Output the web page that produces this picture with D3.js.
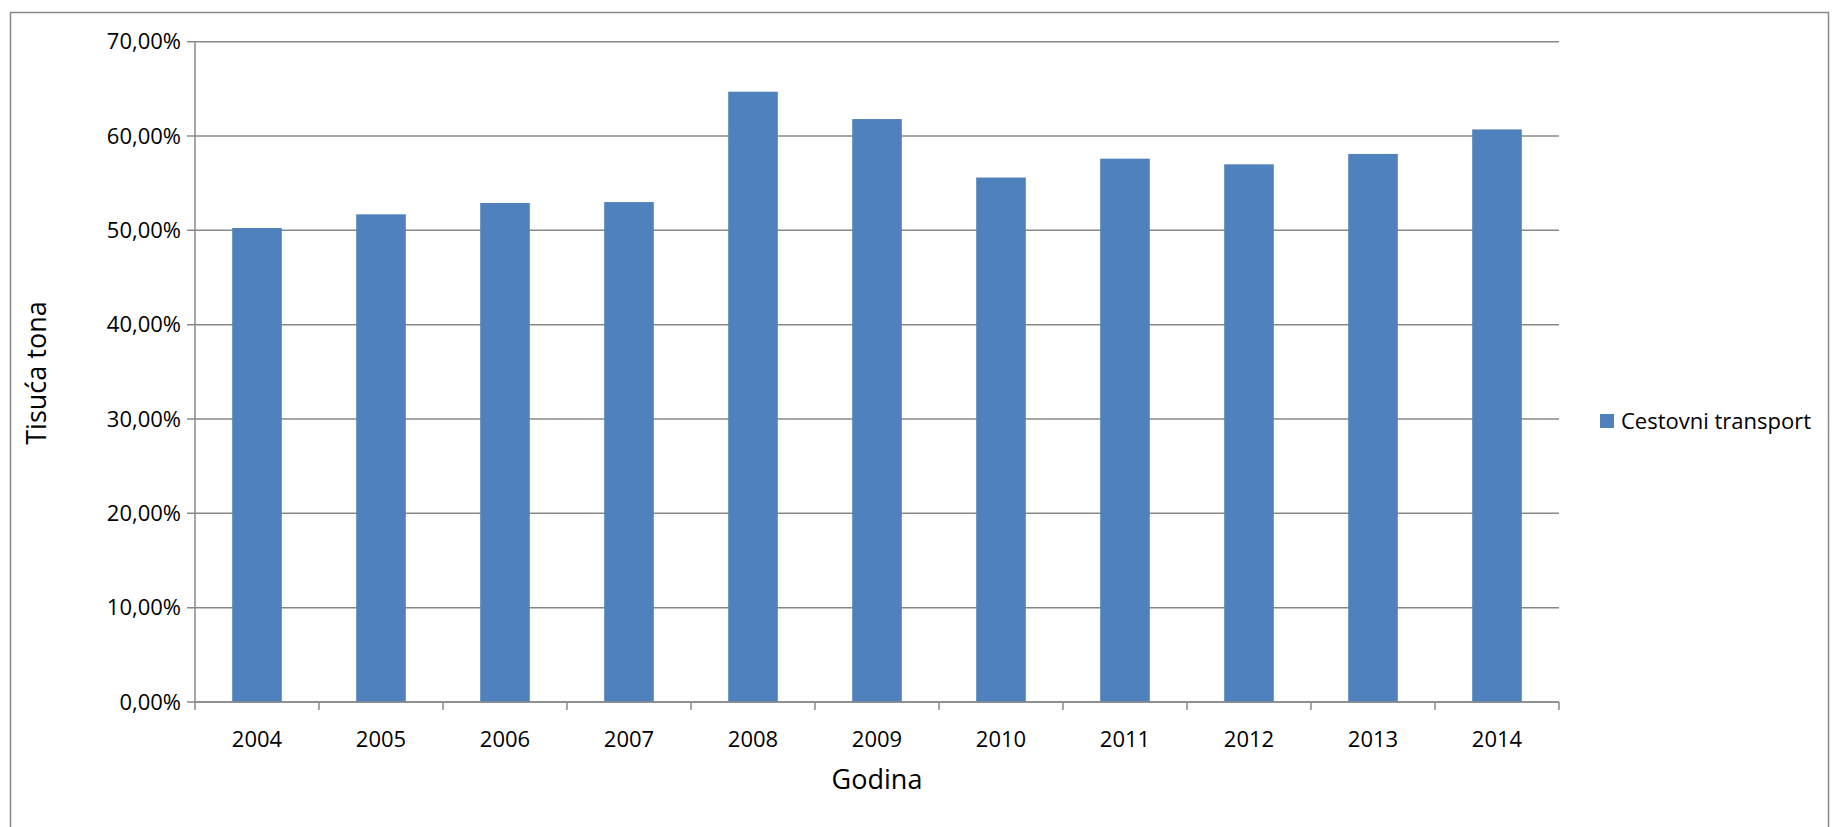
<!DOCTYPE html>
<html><head><meta charset="utf-8">
<script src="https://cdn.jsdelivr.net/npm/d3@7"></script>
<style>body{margin:0;background:#fff}svg{display:block}text{font-family:"Open Sans",sans-serif;fill:#000}</style>
</head><body><svg id="c" width="1834" height="827"></svg>
<script>
const categories=["2004","2005","2006","2007","2008","2009","2010","2011","2012","2013","2014"];
const values=[50.25,51.7,52.9,53.0,64.7,61.8,55.6,57.6,57.0,58.1,60.7];
const yTicks=[0,10,20,30,40,50,60,70];
const seriesName="Cestovni transport";
const svg=d3.select("#c");
svg.append("rect").attr("x",10.5).attr("y",12.5).attr("width",1818).attr("height",830).attr("fill","none").attr("stroke","#888").attr("stroke-width",1.5);
const L=195,R=1559,T=41.7,B=702;
const x=d3.scaleBand().domain(categories).range([L,R]);
const y=d3.scaleLinear().domain([0,70]).range([B,T]);
const g=svg.append("g");
yTicks.forEach(t=>{
  g.append("line").attr("x1",L-8).attr("x2",R).attr("y1",y(t)).attr("y2",y(t)).attr("stroke","#888").attr("stroke-width",1.5);
  g.append("text").attr("x",L-14).attr("y",y(t)).attr("dy","0.35em").attr("text-anchor","end").attr("font-size",22).text(t.toFixed(2).replace(".",",")+"%");
});
g.append("line").attr("x1",L).attr("x2",L).attr("y1",T).attr("y2",B).attr("stroke","#888").attr("stroke-width",1.5);
const bw=x.bandwidth()*0.4;
g.selectAll("rect.b").data(values).join("rect").attr("class","b")
 .attr("x",(d,i)=>x(categories[i])+(x.bandwidth()-bw)/2).attr("width",bw)
 .attr("y",d=>y(d)).attr("height",d=>B-y(d)).attr("fill","#4f81bd");
[...categories.map(c=>x(c)),R].forEach(p=>g.append("line").attr("x1",p).attr("x2",p).attr("y1",B).attr("y2",B+8).attr("stroke","#888").attr("stroke-width",1.5));
g.append("line").attr("x1",L).attr("x2",R).attr("y1",B).attr("y2",B).attr("stroke","#888").attr("stroke-width",1.5);
categories.forEach(c=>g.append("text").attr("x",x(c)+x.bandwidth()/2).attr("y",739).attr("dy","0.35em").attr("text-anchor","middle").attr("font-size",22).text(c));
svg.append("text").attr("x",877).attr("y",780).attr("dy","0.35em").attr("text-anchor","middle").attr("font-size",27).text("Godina");
svg.append("text").attr("transform","translate(37,373) rotate(-90)").attr("dy","0.35em").attr("text-anchor","middle").attr("font-size",27).text("Tisuća tona");
svg.append("rect").attr("x",1600).attr("y",414).attr("width",14).attr("height",14).attr("fill","#4f81bd");
svg.append("text").attr("x",1621).attr("y",421).attr("dy","0.35em").attr("font-size",22).text(seriesName);
</script></body></html>
